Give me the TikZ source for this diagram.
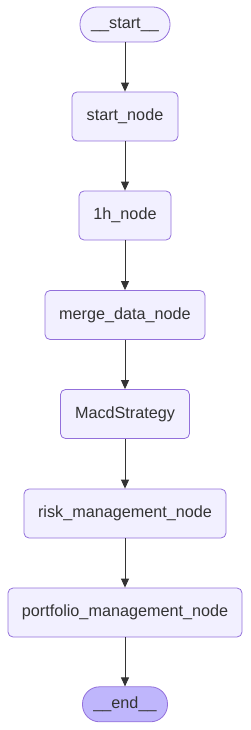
\documentclass[tikz,border=0pt]{standalone}
\usepackage{fontspec}
\setmainfont{Liberation Sans}
\usetikzlibrary{arrows.meta}
\definecolor{nodefill}{HTML}{F2F0FF}
\definecolor{nodeline}{HTML}{9370DB}
\definecolor{endfill}{HTML}{BFB6FC}
\definecolor{txt}{HTML}{333333}
\tikzset{
  box/.style={draw=nodeline, fill=nodefill, line width=0.8pt, rounded corners=5pt,
    inner sep=0pt, minimum height=49pt, text=txt, font=\fontsize{16.2}{19}\selectfont,
    text height=12pt, text depth=3.5pt},
  term/.style={box, rounded corners=17pt, minimum height=35pt},
  link/.style={draw=txt, line width=0.9pt, -{Triangle[length=9pt,width=8pt]}}
}
\begin{document}
\begin{tikzpicture}[x=1pt,y=-1pt]
\useasboundingbox (0,0) rectangle (250,730);
\node[term, minimum width=90pt] (s) at (125,24.5) {\_\_start\_\_};
\node[box, minimum width=106pt] (n1) at (125,116.5) {start\_node};
\node[box, minimum width=92pt] (n2) at (125,215.5) {1h\_node};
\node[box, minimum width=160pt] (n3) at (125,315) {merge\_data\_node};
\node[box, minimum width=129pt] (n4) at (125,414) {MacdStrategy};
\node[box, minimum width=202pt] (n5) at (125,513.5) {risk\_management\_node};
\node[box, minimum width=234pt] (n6) at (125,612.5) {portfolio\_management\_node};
\node[term, minimum width=85pt, fill=endfill] (e) at (125,704.3) {\_\_end\_\_};
\draw[link] (s) -- (n1);
\draw[link] (n1) -- (n2);
\draw[link] (n2) -- (n3);
\draw[link] (n3) -- (n4);
\draw[link] (n4) -- (n5);
\draw[link] (n5) -- (n6);
\draw[link] (n6) -- (e);
\end{tikzpicture}
\end{document}
